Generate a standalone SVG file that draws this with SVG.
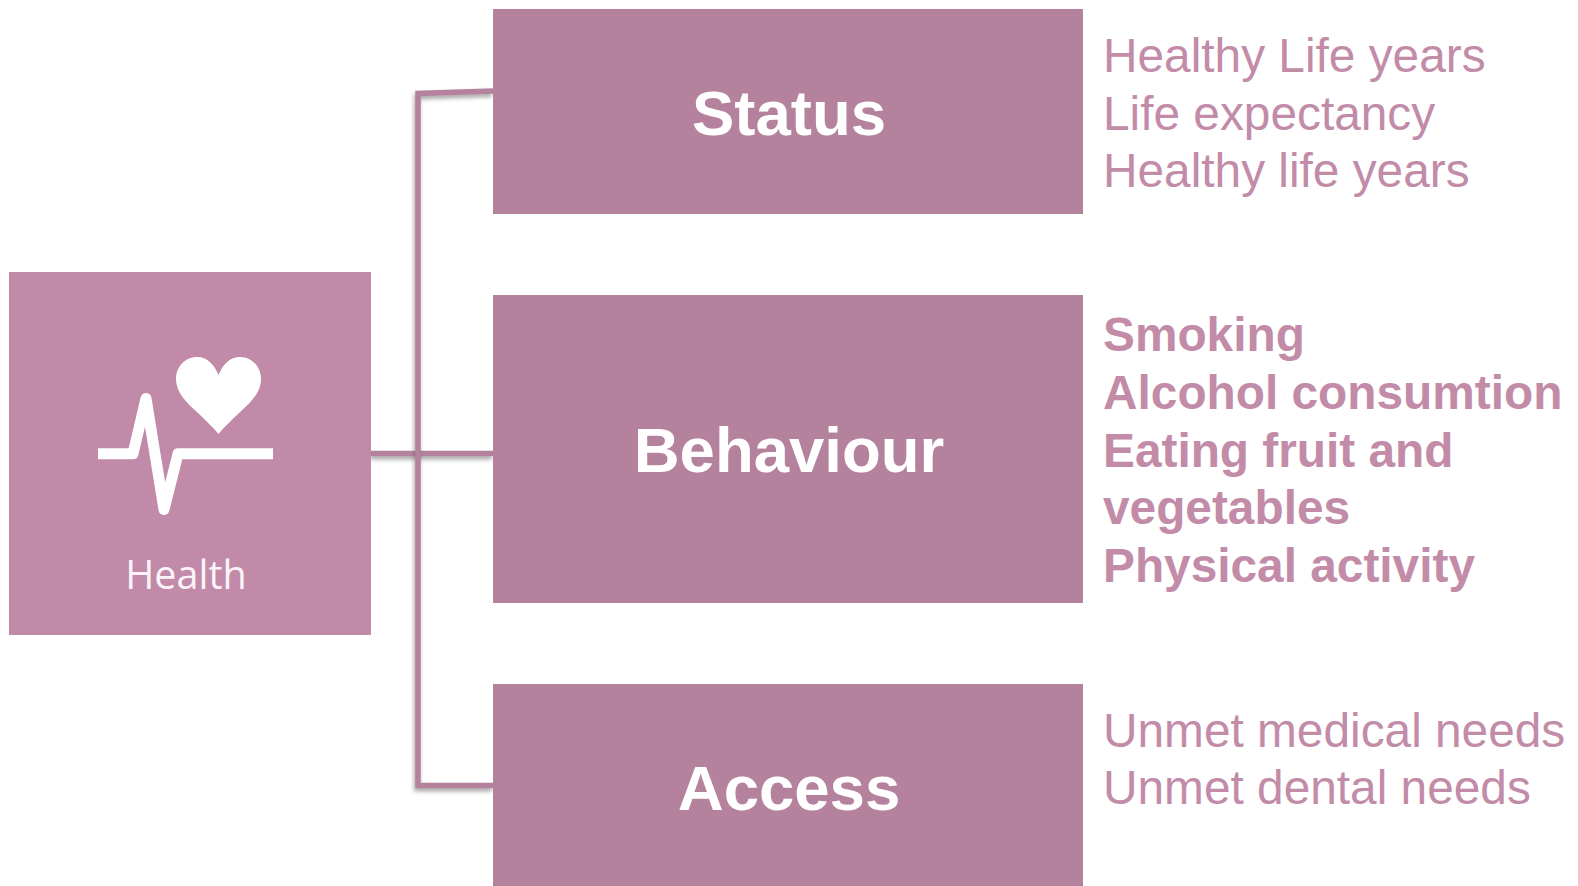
<svg xmlns="http://www.w3.org/2000/svg" width="1578" height="886" viewBox="0 0 1578 886">
<defs>
<style>
.box{fill:#b5829e}
.head{font-family:"Liberation Sans",Arial,sans-serif;font-weight:700;font-size:63.500px;fill:#fff;text-anchor:middle}
.list{font-family:"Liberation Sans",Arial,sans-serif;font-size:47.800px;fill:#c28ba8}
.b{font-weight:700}
.conn{fill:none;stroke:#b5829e;stroke-width:5.500;filter:url(#sh)}
</style>
<filter id="sh" x="0" y="0" width="1578" height="886" filterUnits="userSpaceOnUse">
<feDropShadow dx="-1" dy="3" stdDeviation="2" flood-color="#555" flood-opacity="0.55"/>
</filter>
</defs>
<rect width="1578" height="886" fill="#fff"/>
<g id="connectors">
<path class="conn" d="M371 453.500H493"/>
<path class="conn" d="M493 91L418 93.500V785.500H493"/>
</g>
<g id="health">
<rect x="9" y="272" width="362" height="363" fill="#c18aa8"/>
<path d="M218.500 375C214 364 207 357 197 357C185 357 176 367 176 379C176 393 187 403 198 413C205 420 212 426 218.500 434C225 426 232 420 239 413C250 403 261 393 261 379C261 367 252 357 240 357C230 357 223 364 218.500 375Z" fill="#fff"/>
<path d="M98 453.800H133L146 398.500L164 509.500L178 453.800H273" fill="none" stroke="#fff" stroke-width="11" stroke-linejoin="round"/>
<text x="186" y="589" font-family="'Open Sans','Noto Sans',sans-serif" font-size="39.500" fill="#fbf3f7" text-anchor="middle">Health</text>
</g>
<g id="status">
<rect class="box" x="493" y="9" width="590" height="205"/>
<text class="head" x="789" y="134.500">Status</text>
<text class="list" x="1103" y="72">Healthy Life years</text>
<text class="list" x="1103" y="129.500">Life expectancy</text>
<text class="list" x="1103" y="187">Healthy life years</text>
</g>
<g id="behaviour">
<rect class="box" x="493" y="295" width="590" height="308"/>
<text class="head" x="789" y="471.500">Behaviour</text>
<text class="list b" x="1103" y="351">Smoking</text>
<text class="list b" x="1103" y="409">Alcohol consumtion</text>
<text class="list b" x="1103" y="467">Eating fruit and</text>
<text class="list b" x="1103" y="524">vegetables</text>
<text class="list b" x="1103" y="582">Physical activity</text>
</g>
<g id="access">
<rect class="box" x="493" y="684" width="590" height="202"/>
<text class="head" x="789" y="809.500">Access</text>
<text class="list" x="1103" y="746.500">Unmet medical needs</text>
<text class="list" x="1103" y="804">Unmet dental needs</text>
</g>
</svg>
